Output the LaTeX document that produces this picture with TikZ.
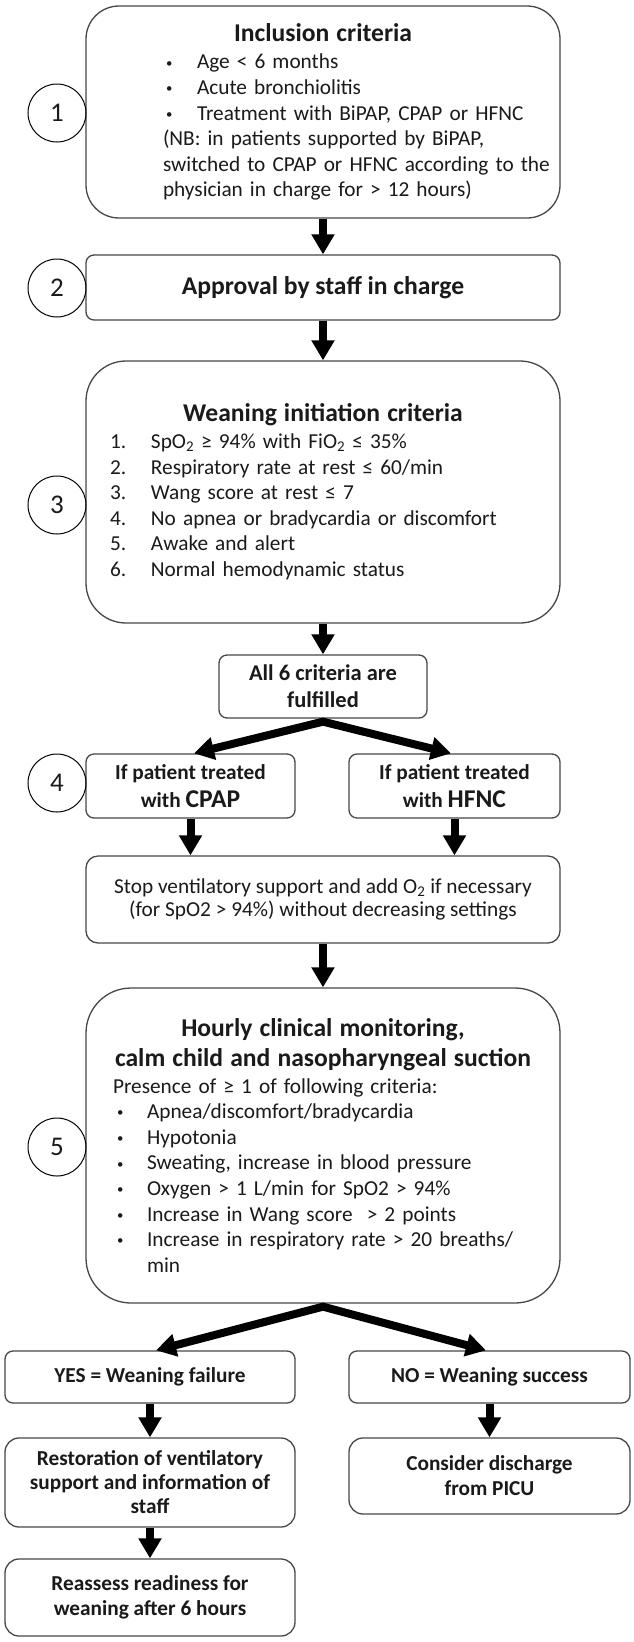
\documentclass[tikz,border=0pt]{standalone}
\usepackage{fontspec}
\usepackage{graphicx}
\setmainfont{Carlito}
\usetikzlibrary{arrows.meta,calc}
\setlength{\parindent}{0pt}
\newcommand{\bodyf}{\fontsize{21.3}{25.6}\selectfont}
\newcommand{\titlef}{\fontsize{25.6}{30}\selectfont\bfseries}
\newcommand{\bigf}{\fontsize{25.6}{28}\selectfont}
\newcommand{\smbul}{\raisebox{0.18ex}{\scalebox{0.6}{•}}}
\definecolor{boxgray}{HTML}{474747}
\definecolor{txt}{HTML}{1A1A1A}
\tikzset{
  box/.style={draw=boxgray, line width=1.3pt, fill=white, inner sep=0pt,
    text=txt, font=\bodyf, align=center},
  wide/.style={minimum width=474pt, text width=474pt},
  circ/.style={circle, draw=black, line width=1pt, minimum size=58pt,
    inner sep=0pt, text=txt, font=\fontsize{27}{30}\selectfont},
  arr/.style={black, line width=8pt, -{Triangle[width=22pt,length=20pt]}},
  arrtwo/.style={black, line width=8pt, line join=miter,
    {Triangle[width=22pt,length=20pt]}-{Triangle[width=22pt,length=20pt]}},
}
\begin{document}
\begin{tikzpicture}[x=1pt,y=-1pt]
\path[use as bounding box, fill=white] (0,0) rectangle (634,1642);

% Box 1
\node[box, wide, rounded corners=33pt, minimum height=212pt, align=left] (b1) at (323,112) {%
{\centering\titlef Inclusion criteria\par}\vspace{2pt}
\hspace*{80pt}\makebox[31pt][l]{\smbul}Age < 6 months\par
\hspace*{80pt}\makebox[31pt][l]{\smbul}Acute bronchiolitis\par
\hspace*{80pt}\makebox[31pt][l]{\smbul}Treatment with BiPAP, CPAP or HFNC\par
\hspace*{77pt}(NB: in patients supported by BiPAP,\par
\hspace*{77pt}switched to CPAP or HFNC according to the\par
\hspace*{77pt}physician in charge for > 12 hours)\par};

% Box 2
\node[box, minimum width=474pt, minimum height=65pt, rounded corners=8pt, font=\titlef] (b2) at (323,287.5) {Approval by staff in charge};

% Box 3
\node[box, wide, rounded corners=40pt, minimum height=262pt, align=left] (b3) at (323,492) {%
{\centering\titlef Weaning initiation criteria\par}\vspace{1pt}
\hspace*{24pt}\makebox[41pt][l]{1.}SpO\textsubscript{2} ≥ 94\% with FiO\textsubscript{2} ≤ 35\%\par
\hspace*{24pt}\makebox[41pt][l]{2.}Respiratory rate at rest ≤ 60/min\par
\hspace*{24pt}\makebox[41pt][l]{3.}Wang score at rest ≤ 7\par
\hspace*{24pt}\makebox[41pt][l]{4.}No apnea or bradycardia or discomfort\par
\hspace*{24pt}\makebox[41pt][l]{5.}Awake and alert\par
\hspace*{24pt}\makebox[41pt][l]{6.}Normal hemodynamic status\par};

% All 6
\node[box, minimum width=208pt, minimum height=63pt, rounded corners=8pt,
  font=\fontsize{22.5}{27}\selectfont\bfseries] (all6) at (323,686.5) {All 6 criteria are\\fulfilled};

% CPAP / HFNC
\node[box, minimum width=209pt, minimum height=64pt, rounded corners=8pt,
  font=\fontsize{21.3}{28}\selectfont\bfseries] (cpap) at (190.5,786) {If patient treated\\with {\bigf CPAP}};
\node[box, minimum width=211pt, minimum height=64pt, rounded corners=8pt,
  font=\fontsize{21.3}{28}\selectfont\bfseries] (hfnc) at (454.5,786) {If patient treated\\with {\bigf HFNC}};

% Stop
\node[box, minimum width=474pt, minimum height=87pt, rounded corners=12pt,
  font=\fontsize{21.3}{22.7}\selectfont] (stop) at (323,899.5) {Stop ventilatory support and add O\textsubscript{2} if necessary\\(for SpO2 > 94\%) without decreasing settings};

% Box 5
\node[box, wide, rounded corners=45pt, minimum height=315pt, align=left] (b5) at (323,1145.5) {%
{\centering\titlef Hourly clinical monitoring,\par calm child and nasopharyngeal suction\par}\vspace{1pt}
\hspace*{27pt}Presence of ≥ 1 of following criteria:\par
\hspace*{31pt}\makebox[30pt][l]{\smbul}Apnea/discomfort/bradycardia\par
\hspace*{31pt}\makebox[30pt][l]{\smbul}Hypotonia\par
\hspace*{31pt}\makebox[30pt][l]{\smbul}Sweating, increase in blood pressure\par
\hspace*{31pt}\makebox[30pt][l]{\smbul}Oxygen > 1 L/min for SpO2 > 94\%\par
\hspace*{31pt}\makebox[30pt][l]{\smbul}Increase in Wang score \ > 2 points\par
\hspace*{31pt}\makebox[30pt][l]{\smbul}Increase in respiratory rate > 20 breaths/\par
\hspace*{61pt}min\par};

% Outcome boxes
\node[box, minimum width=290pt, minimum height=52pt, rounded corners=8pt,
  font=\fontsize{21.3}{24}\selectfont\bfseries] (yes) at (150,1377) {YES = Weaning failure};
\node[box, minimum width=281pt, minimum height=52pt, rounded corners=8pt,
  font=\fontsize{21.3}{24}\selectfont\bfseries] (no) at (489.5,1377) {NO = Weaning success};
\node[box, minimum width=290pt, minimum height=89pt, rounded corners=14pt,
  font=\fontsize{21.3}{24}\selectfont\bfseries] (rest) at (150,1482.5) {Restoration of ventilatory\\support and information of\\staff};
\node[box, minimum width=281pt, minimum height=76pt, rounded corners=14pt,
  font=\fontsize{21.3}{25}\selectfont\bfseries] (cons) at (489.5,1476) {Consider discharge\\from PICU};
\node[box, minimum width=290pt, minimum height=77pt, rounded corners=14pt,
  font=\fontsize{21.3}{25}\selectfont\bfseries] (reas) at (150,1597.5) {Reassess readiness for\\weaning after 6 hours};

% Step circles
\node[circ] (c1) at (57,113) {1};
\node[circ] (c2) at (57,288) {2};
\node[circ] (c3) at (57,505) {3};
\node[circ] (c4) at (57,783) {4};
\node[circ] (c5) at (57,1147) {5};

% Arrows
\draw[arr] (b1.south) -- (b2.north);
\draw[arr] (b2.south) -- (b3.north);
\draw[arr] (b3.south) -- (all6.north);
\draw[arrtwo] ($(cpap.north)+(3.5,0)$) -- ($(all6.south)+(0,3)$) -- ($(hfnc.north)+(-3.5,0)$);
\draw[arr] (cpap.south) -- (cpap.south |- stop.north);
\draw[arr] (hfnc.south) -- (hfnc.south |- stop.north);
\draw[arr] (stop.south) -- (b5.north);
\draw[arrtwo] ($(yes.north)+(6,0)$) -- ($(b5.south)+(0,3)$) -- ($(no.north)+(-3.5,0)$);
\draw[arr] (yes.south) -- (rest.north);
\draw[arr] (no.south) -- (cons.north);
\draw[arr] (rest.south) -- (reas.north);
\end{tikzpicture}
\end{document}
